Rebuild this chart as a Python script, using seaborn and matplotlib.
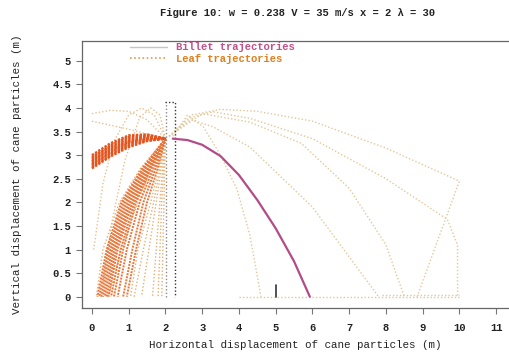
import numpy as np
import pandas as pd
import matplotlib
matplotlib.use("Agg")
import matplotlib.pyplot as plt
from matplotlib.lines import Line2D
import seaborn as sns

# ---------------- data ----------------
title = "Figure 10: w = 0.238 V = 35 m/s x = 2 \u03bb = 30"
x_label = "Horizontal displacement of cane particles (m)"
y_label = "Vertical displacement of cane particles (m)"
x_ticks = [0, 1, 2, 3, 4, 5, 6, 7, 8, 9, 10, 11]
y_ticks = [0, 0.5, 1, 1.5, 2, 2.5, 3, 3.5, 4, 4.5, 5]
y_tick_labels = ["0", "0.5", "1", "1.5", "2", "2.5", "3", "3.5", "4", "4.5", "5"]

billet_x = [2.2, 2.6, 3.0, 3.5, 4.0, 4.5, 5.0, 5.5, 5.93]
billet_y = [3.35, 3.32, 3.22, 2.98, 2.58, 2.05, 1.45, 0.75, 0.0]

# dense band of leaf trajectories coming from the left
band_x = [0.0, 0.5, 1.0, 1.5, 2.0]
band_y = [
    [2.72, 2.97, 3.17, 3.30, 3.35],
    [2.75, 3.00, 3.20, 3.31, 3.35],
    [2.78, 3.03, 3.23, 3.33, 3.35],
    [2.81, 3.06, 3.26, 3.34, 3.35],
    [2.84, 3.09, 3.28, 3.36, 3.35],
    [2.87, 3.12, 3.30, 3.37, 3.35],
    [2.90, 3.15, 3.33, 3.39, 3.35],
    [2.93, 3.18, 3.36, 3.40, 3.35],
    [2.96, 3.21, 3.39, 3.42, 3.35],
    [3.00, 3.25, 3.42, 3.44, 3.35],
]

# fan of leaf trajectories falling to the left of the release point
fan_y = [3.35, 2.7, 2.0, 1.0, 0.0]
fan_dense_x = [
    [2.0, 1.35, 0.80, 0.40, 0.15],
    [2.0, 1.39, 0.85, 0.45, 0.20],
    [2.0, 1.42, 0.90, 0.50, 0.25],
    [2.0, 1.45, 0.95, 0.55, 0.30],
    [2.0, 1.48, 1.00, 0.60, 0.35],
    [2.0, 1.52, 1.05, 0.65, 0.40],
    [2.0, 1.55, 1.10, 0.70, 0.45],
    [2.0, 1.58, 1.15, 0.78, 0.52],
    [2.0, 1.60, 1.20, 0.85, 0.60],
    [2.0, 1.66, 1.30, 0.95, 0.70],
    [2.0, 1.72, 1.40, 1.10, 0.85],
    [2.0, 1.78, 1.50, 1.20, 0.95],
]
fan_light_x = [
    [2.0, 1.92, 1.85, 1.75, 1.65],
    [2.0, 1.95, 1.90, 1.85, 1.80],
    [2.0, 1.98, 1.96, 1.93, 1.90],
    [2.0, 1.88, 1.75, 1.55, 1.35],
    [2.0, 1.85, 1.68, 1.40, 1.15],
    [2.0, 1.82, 1.60, 1.25, 1.05],
    [2.0, 1.60, 1.25, 0.80, 0.45],
    [2.0, 1.30, 0.75, 0.30, 0.12],
]

# high / long leaf trajectories (x list, y list)
leaf_high = [
    ([2.0, 1.7, 1.35, 1.0, 0.6, 0.3, 0.05], [3.35, 3.85, 4.0, 3.85, 3.3, 2.4, 1.0]),
    ([2.0, 1.85, 1.6, 1.3, 0.9, 0.55, 0.3], [3.35, 3.85, 4.0, 3.8, 2.9, 1.6, 0.3]),
    ([0.0, 1.0, 2.0], [3.72, 3.55, 3.35]),
    ([0.0, 0.5, 1.0, 1.5, 2.0], [3.88, 3.95, 3.93, 3.75, 3.35]),
]
leaf_long = [
    ([2.1, 2.7, 3.5, 4.5, 6.0, 8.0, 10.0, 8.85], [3.4, 3.85, 3.97, 3.93, 3.72, 3.15, 2.45, 0.0]),
    ([2.1, 2.7, 3.3, 4.3, 6.0, 8.0, 9.67, 9.95, 9.95], [3.4, 3.8, 3.92, 3.78, 3.35, 2.5, 1.64, 1.1, 0.0]),
    ([2.1, 3.0, 4.3, 5.7, 7.0, 8.0, 8.5], [3.4, 3.88, 3.7, 3.25, 2.3, 1.1, 0.0]),
    ([2.1, 2.7, 3.3, 4.3, 6.0, 7.8], [3.4, 3.75, 3.6, 3.17, 1.9, 0.0]),
    ([2.2, 2.6, 3.03, 3.5, 3.95, 4.3, 4.6], [3.4, 3.85, 3.6, 3.0, 2.27, 1.3, 0.0]),
    ([4.0, 10.0], [0.0, 0.0]),
    ([7.9, 10.0], [0.04, 0.04]),
]

chute_left_x = [2.02, 2.02]
chute_left_y = [0.0, 4.12]
chute_right_x = [1.98, 2.25, 2.25]
chute_right_y = [4.12, 4.12, 0.0]
marker_x = [5.0, 5.0]
marker_y = [0.0, 0.25]


def to_long(pairs):
    rows = []
    for i, (xs, ys) in enumerate(pairs):
        for order, (xv, yv) in enumerate(zip(xs, ys)):
            rows.append({"traj": i, "order": order, "x": xv, "y": yv})
    return pd.DataFrame(rows)


band_df = to_long([(band_x, ys) for ys in band_y])
fan_dense_df = to_long([(xs, fan_y) for xs in fan_dense_x])
fan_light_df = to_long([(xs, fan_y) for xs in fan_light_x])
high_df = to_long(leaf_high)
long_df = to_long(leaf_long)
chute_df = to_long([(chute_left_x, chute_left_y)])
chute2_df = to_long([(chute_right_x, chute_right_y)])
marker_df = to_long([(marker_x, marker_y)])
billet_df = to_long([(billet_x, billet_y)])

# ---------------- figure ----------------
sns.set_theme(style="ticks")
plt.rcParams["font.family"] = ["Liberation Mono", "DejaVu Sans Mono", "DejaVu Sans"]
plt.rcParams["font.weight"] = "bold"

fig = plt.figure(figsize=(5.09, 3.58), dpi=100)
ax = fig.add_axes([82 / 509, 1 - 308 / 358, 1 - 82 / 509, (308 - 41) / 358])

dot = (0, (1.0, 1.5))
fine = (0, (1.0, 0.6))
common = dict(x="x", y="y", units="traj", estimator=None, sort=False, legend=False, ax=ax)

sns.lineplot(data=long_df, color="#e2c79a", lw=1.0, linestyle=dot, **common)
sns.lineplot(data=high_df, color="#e6c08e", lw=1.0, linestyle=dot, **common)
sns.lineplot(data=fan_light_df, color="#e6ae70", lw=1.0, linestyle=dot, **common)
sns.lineplot(data=fan_dense_df, color="#e8763a", lw=1.4, linestyle=fine, **common)
sns.lineplot(data=band_df, color="#e3541f", lw=1.7, linestyle=fine, **common)

sns.lineplot(data=chute_df, color="#8a8a8a", lw=1.0, linestyle=dot, **common)
sns.lineplot(data=chute2_df, color="#333333", lw=1.0, linestyle=dot, **common)
sns.lineplot(data=marker_df, color="#333333", lw=1.2, **common)
sns.lineplot(data=billet_df, color="#b24c86", lw=1.6, **common)

ax.set_xlim(-0.27, 11.35)
ax.set_ylim(-0.24, 5.42)
ax.set_xticks(x_ticks)
ax.set_yticks(y_ticks)
ax.set_yticklabels(y_tick_labels)
ax.tick_params(axis="both", direction="out", length=4, width=0.8, color="#777777",
               labelsize=7.6, labelcolor="#222222", pad=4)
ax.tick_params(axis="x", pad=7)
for side in ["left", "bottom", "top"]:
    ax.spines[side].set_color("#666666")
    ax.spines[side].set_linewidth(0.9)
ax.spines["right"].set_visible(False)

ax.set_xlabel(x_label, fontsize=7.8, color="#222222", labelpad=5)
ax.set_ylabel(y_label, fontsize=7.8, color="#222222", labelpad=22)
fig.text(0.585, 0.977, title, ha="center", va="top", fontsize=7.6, color="#222222")

handles = [Line2D([], [], color="#c9c3c8", lw=1.0),
           Line2D([], [], color="#e39a4a", lw=1.2, linestyle=dot)]
leg = ax.legend(handles, ["Billet trajectories", "Leaf trajectories"], loc="upper left",
                bbox_to_anchor=(0.112, 0.995), frameon=False, fontsize=7.6,
                handlelength=3.5, handletextpad=0.9, borderpad=0, borderaxespad=0,
                labelspacing=0.15)
leg.get_texts()[0].set_color("#c2508a")
leg.get_texts()[1].set_color("#e0801f")

fig.savefig("out.png", dpi=100)
